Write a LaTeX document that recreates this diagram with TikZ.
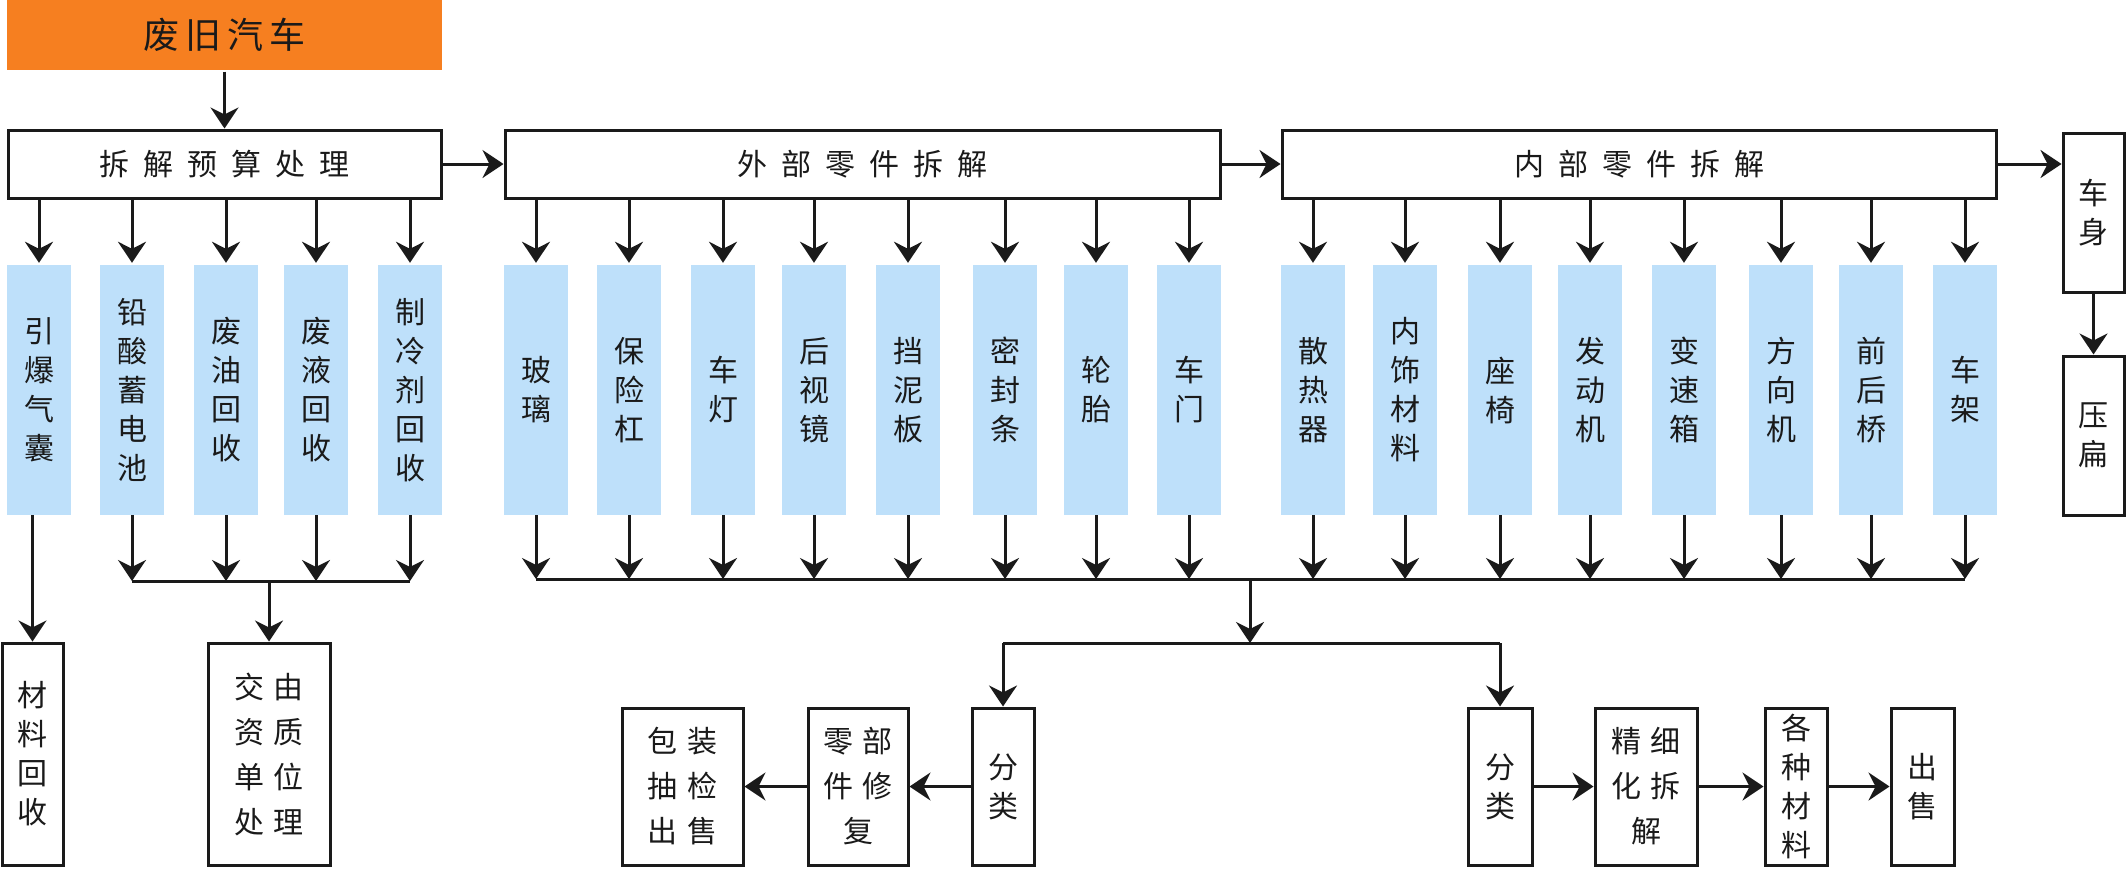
\documentclass[tikz,border=0pt]{standalone}
\usepackage{fontspec}
\setmainfont{Noto Sans CJK SC}
\usetikzlibrary{arrows.meta}
\definecolor{orgfill}{RGB}{246,127,32}
\definecolor{bluefill}{RGB}{190,224,250}
\definecolor{ink}{RGB}{26,26,26}
\newcommand{\mkbox}[7]{\node[#6, minimum width={#4pt-#2pt}, minimum height={#5pt-#3pt}] (#1) at ({(#2+#4)/2},{(#3+#5)/2}) {#7};}
\begin{document}
\begin{tikzpicture}[x=1pt,y=-1pt,
  box/.style={draw=ink, line width=3pt, fill=white, inner sep=0pt, text=ink, align=center},
  part/.style={fill=bluefill, inner sep=0pt, minimum width=64pt, minimum height=250pt, text=ink, align=center, font=\fontsize{30}{39}\selectfont},
  arr/.style={-{Stealth[length=21pt,width=28pt,inset=7pt]}, line width=3pt, draw=ink},
  ln/.style={line width=3pt, draw=ink},
  hfont/.style={font=\fontsize{30}{36}\selectfont},
  vfont/.style={font=\fontsize{30}{39}\selectfont},
  wfont/.style={font=\fontsize{30}{45}\selectfont}]
\useasboundingbox (0,0) rectangle (2127,868);
% top row
\mkbox{O}{7}{0}{442}{70}{box,draw=none,fill=orgfill,font=\fontsize{36}{40}\selectfont}{废\hspace{6pt}旧\hspace{6pt}汽\hspace{6pt}车}
\mkbox{A}{8}{130}{441}{198}{box,hfont}{拆\hspace{14pt}解\hspace{14pt}预\hspace{14pt}算\hspace{14pt}处\hspace{14pt}理}
\mkbox{B}{505}{130}{1220}{198}{box,hfont}{外\hspace{14pt}部\hspace{14pt}零\hspace{14pt}件\hspace{14pt}拆\hspace{14pt}解}
\mkbox{C}{1282}{130}{1996}{198}{box,hfont}{内\hspace{14pt}部\hspace{14pt}零\hspace{14pt}件\hspace{14pt}拆\hspace{14pt}解}
\mkbox{D}{2063}{133}{2124}{292}{box,vfont}{车\\身}
\mkbox{E}{2063}{356}{2124}{515}{box,vfont}{压\\扁}
% parts
\node[part] (a1) at (39,390) {引\\爆\\气\\囊};
\node[part] (a2) at (132,390) {铅\\酸\\蓄\\电\\池};
\node[part] (a3) at (226,390) {废\\油\\回\\收};
\node[part] (a4) at (316,390) {废\\液\\回\\收};
\node[part] (a5) at (410,390) {制\\冷\\剂\\回\\收};
\node[part] (b1) at (536,390) {玻\\璃};
\node[part] (b2) at (629,390) {保\\险\\杠};
\node[part] (b3) at (723,390) {车\\灯};
\node[part] (b4) at (814,390) {后\\视\\镜};
\node[part] (b5) at (908,390) {挡\\泥\\板};
\node[part] (b6) at (1005,390) {密\\封\\条};
\node[part] (b7) at (1096,390) {轮\\胎};
\node[part] (b8) at (1189,390) {车\\门};
\node[part] (c1) at (1313,390) {散\\热\\器};
\node[part] (c2) at (1405,390) {内\\饰\\材\\料};
\node[part] (c3) at (1500,390) {座\\椅};
\node[part] (c4) at (1590,390) {发\\动\\机};
\node[part] (c5) at (1684,390) {变\\速\\箱};
\node[part] (c6) at (1781,390) {方\\向\\机};
\node[part] (c7) at (1871,390) {前\\后\\桥};
\node[part] (c8) at (1965,390) {车\\架};
% bottom
\mkbox{G}{2}{643}{63}{865}{box,vfont}{材\\料\\回\\收}
\mkbox{F}{208}{643}{330}{865}{box,wfont}{交\hspace{9pt}由\\资\hspace{9pt}质\\单\hspace{9pt}位\\处\hspace{9pt}理}
\mkbox{J}{622}{708}{743}{865}{box,wfont}{包\hspace{11pt}装\\抽\hspace{11pt}检\\出\hspace{11pt}售}
\mkbox{I}{808}{708}{908}{865}{box,wfont}{零\hspace{9pt}部\\件\hspace{9pt}修\\复}
\mkbox{H}{972}{708}{1034}{865}{box,vfont}{分\\类}
\mkbox{K}{1468}{708}{1532}{865}{box,vfont}{分\\类}
\mkbox{L}{1595}{708}{1697}{865}{box,wfont}{精\hspace{9pt}细\\化\hspace{9pt}拆\\解}
\mkbox{M}{1765}{708}{1827}{865}{box,vfont}{各\\种\\材\\料}
\mkbox{N}{1891}{708}{1954}{865}{box,vfont}{出\\售}
% top connectors
\draw[arr] (O.south) -- (O.south |- A.north);
\draw[arr] (A.east) -- (B.west);
\draw[arr] (B.east) -- (C.west);
\draw[arr] (C.east) -- (C.east -| D.west);
\draw[arr] (D.south) -- (E.north);
\foreach \n in {a1,a2,a3,a4,a5} \draw[arr] (A.south -| \n.north) -- ([yshift=2pt]\n.north);
\foreach \n in {b1,b2,b3,b4,b5,b6,b7,b8} \draw[arr] (B.south -| \n.north) -- ([yshift=2pt]\n.north);
\foreach \n in {c1,c2,c3,c4,c5,c6,c7,c8} \draw[arr] (C.south -| \n.north) -- ([yshift=2pt]\n.north);
% left buses
\coordinate (busA) at (0,581);
\draw[arr] (G.north |- a1.south) -- (G.north);
\foreach \n in {a2,a3,a4,a5} \draw[arr] (\n.south) -- (\n.south |- busA);
\draw[ln] (a2.south |- busA) -- (a5.south |- busA);
\draw[arr] (F.north |- busA) -- (F.north);
% main bus
\coordinate (busB) at (0,579);
\foreach \n in {b1,b2,b3,b4,b5,b6,b7,b8,c1,c2,c3,c4,c5,c6,c7,c8} \draw[arr] (\n.south) -- (\n.south |- busB);
\draw[ln] (b1.south |- busB) -- (c8.south |- busB);
\coordinate (j2) at (1250,643);
\draw[arr] (j2 |- busB) -- (j2);
\draw[ln] (H.north |- j2) -- (K.north |- j2);
\draw[arr] (H.north |- j2) -- (H.north);
\draw[arr] (K.north |- j2) -- (K.north);
% bottom chain
\draw[arr] (H.west) -- (I.east);
\draw[arr] (I.west) -- (J.east);
\draw[arr] (K.east) -- (L.west);
\draw[arr] (L.east) -- (M.west);
\draw[arr] (M.east) -- (N.west);
\end{tikzpicture}
\end{document}
